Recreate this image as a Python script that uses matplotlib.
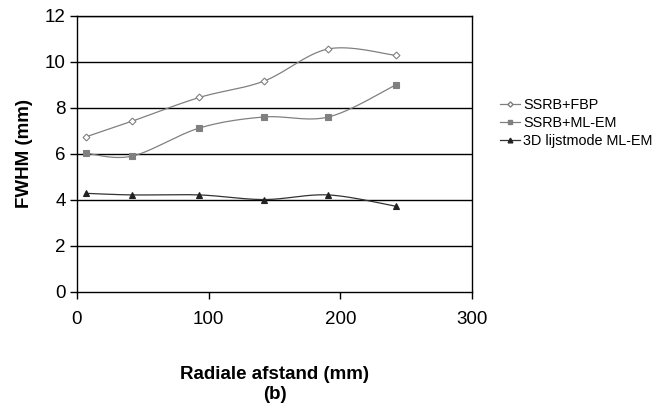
import numpy as np
import matplotlib.pyplot as plt

# ---- data
afstand = [7, 42, 93, 142, 191, 242]  # radiale afstand (mm)
fbp = [6.75, 7.43, 8.46, 9.17, 10.57, 10.29]
mlem = [6.03, 5.91, 7.13, 7.61, 7.61, 9.0]
lijst = [4.29, 4.22, 4.22, 4.02, 4.22, 3.73]
labels = ['SSRB+FBP', 'SSRB+ML-EM', '3D lijstmode ML-EM']


def smooth(x, y, n=30):
    "excel-like smoothed line (catmull-rom bezier) through the points"
    x = np.asarray(x, float)
    y = np.asarray(y, float)
    px = np.concatenate([[x[0]], x, [x[-1]]])
    py = np.concatenate([[y[0]], y, [y[-1]]])
    xs, ys = [], []
    t = np.linspace(0, 1, n)
    for i in range(1, len(x)):
        p0 = np.array([px[i], py[i]])
        p3 = np.array([px[i + 1], py[i + 1]])
        c1 = p0 + (p3 - np.array([px[i - 1], py[i - 1]])) / 6
        c2 = p3 - (np.array([px[i + 2], py[i + 2]]) - p0) / 6
        b = ((1 - t) ** 3)[:, None] * p0 + (3 * (1 - t) ** 2 * t)[:, None] * c1 \
            + (3 * (1 - t) * t ** 2)[:, None] * c2 + (t ** 3)[:, None] * p3
        xs.extend(b[:, 0])
        ys.extend(b[:, 1])
    return xs, ys


plt.rcParams['font.family'] = ['Liberation Sans', 'DejaVu Sans']

fig = plt.figure(figsize=(6.56, 4.09), dpi=100)
ax = fig.add_axes([77 / 656, 1 - 292 / 409, 395 / 656, 276 / 409])

styles = [
    dict(color='#808080', marker='D', mfc='white', mec='#808080', ms=3.5, mew=0.8),
    dict(color='#808080', marker='s', mfc='#808080', mec='#808080', ms=4.5),
    dict(color='#333333', marker='^', mfc='#222222', mec='#222222', ms=4.5),
]
for ys, lab, st in zip([fbp, mlem, lijst], labels, styles):
    sx, sy = smooth(afstand, ys)
    ax.plot(sx, sy, color=st['color'], lw=0.9)
    ax.plot(afstand, ys, ls='none', marker=st['marker'], mfc=st['mfc'],
            mec=st['mec'], ms=st['ms'], mew=st.get('mew', 0.8))
    ax.plot([], [], color=st['color'], lw=0.9, marker=st['marker'], mfc=st['mfc'],
            mec=st['mec'], ms=st['ms'] * 0.75, label=lab)

ax.set_xlim(0, 300)
ax.set_ylim(0, 12)
ax.set_xticks([0, 100, 200, 300])
ax.set_yticks(range(0, 13, 2))
for y in range(2, 13, 2):
    ax.axhline(y, color='black', lw=1.0, zorder=0)
for s in ax.spines.values():
    s.set_color('black')
    s.set_linewidth(1.0)
ax.tick_params(direction='out', length=5, width=1, labelsize=13.5, colors='black', pad=3)
ax.tick_params(axis='x', pad=9)

ax.set_xlabel('Radiale afstand (mm)\n(b)', fontsize=13.5, fontweight='bold', labelpad=27,
              linespacing=1.25)
ax.set_ylabel('FWHM (mm)', fontsize=13.5, fontweight='bold', labelpad=9)

ax.legend(loc='center left', bbox_to_anchor=(1.071, 0.612), frameon=False, fontsize=10.4,
          handlelength=1.4, handletextpad=0.2, labelspacing=0.3,
          borderaxespad=0, borderpad=0)

fig.savefig('out.png', dpi=100)
